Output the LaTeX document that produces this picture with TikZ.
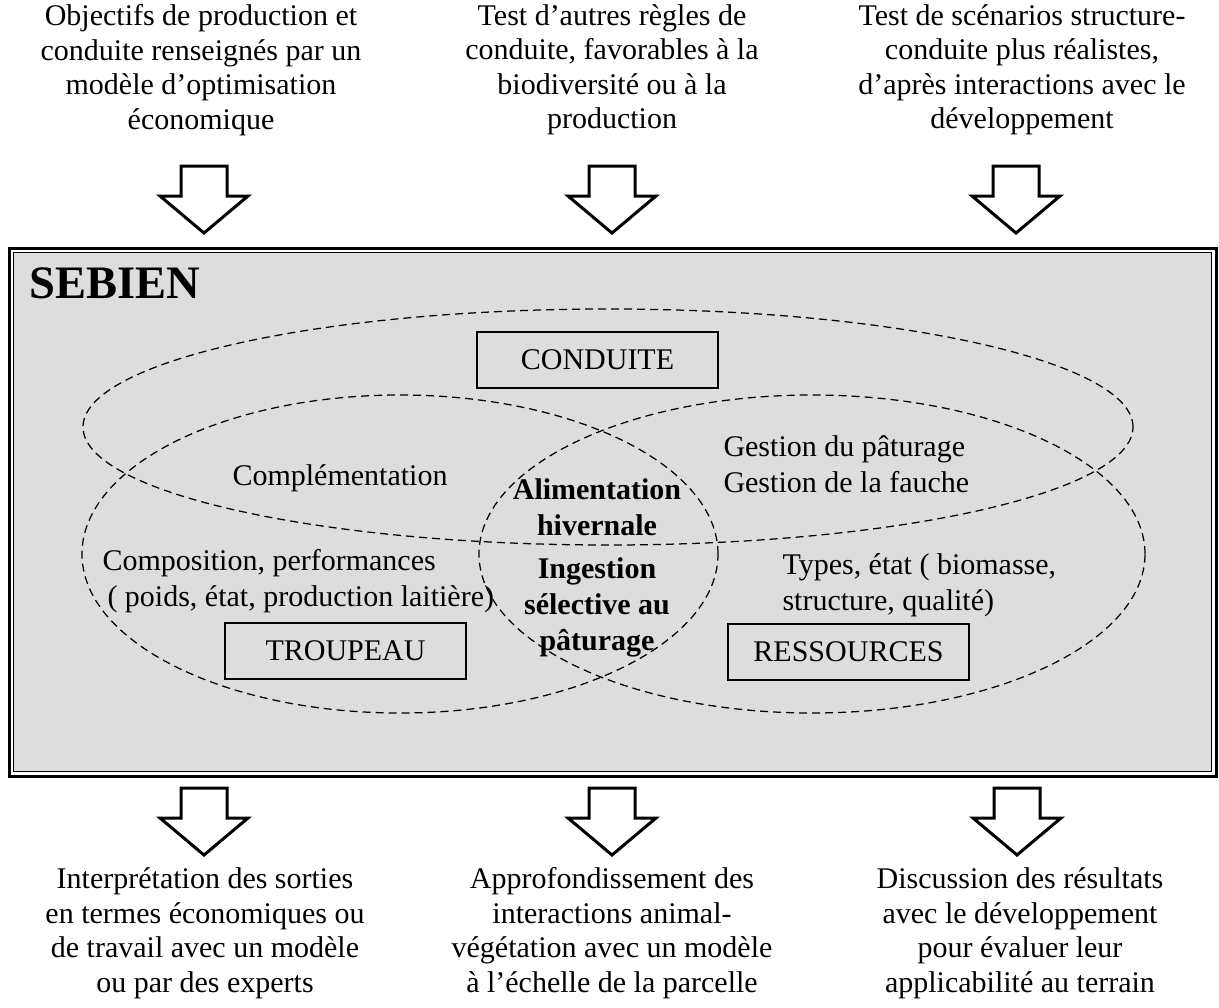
\documentclass[tikz,border=0pt]{standalone}
\usepackage{fontspec}
\setmainfont{Liberation Serif}
\definecolor{fondgris}{HTML}{DDDDDD}
\tikzset{
  every node/.style={font=\fontsize{12}{14.4}\selectfont,inner sep=0pt},
  consigne/.style={align=center,font=\fontsize{12}{13.8}\selectfont},
  bloc/.style={
    draw=black,
    line width=0.7pt,
    minimum width=96.4pt,
    minimum height=22.4pt,
    fill=fondgris
  },
  zone/.style={draw=black,line width=0.5pt,dash pattern=on 3.2pt off 2pt},
  fleche/.style={draw=black,line width=1.2pt,fill=white,line join=miter}
}
\newcommand{\flecheBas}[3]{%
  \coordinate (#1) at (#2,#3);
  \draw[fleche] (#2-23,#3) -- (#2+23,#3) -- (#2+23,#3+30) -- (#2+44,#3+30)
    -- (#2,#3+67) -- (#2-44,#3+30) -- (#2-23,#3+30) -- cycle;
}

\begin{document}
\begin{tikzpicture}[x=0.4pt,y=-0.4pt]
  \useasboundingbox (0,0) rectangle (1219,1007);

  % Cadre du modèle : double trait, fond gris.
  \draw[line width=1.2pt] (9,248) rectangle (1216,776);
  \draw[line width=0.7pt,fill=fondgris] (13.5,252.5) rectangle (1211.5,771.5);
  \node[anchor=base west,font=\bfseries\fontsize{18.6}{20}\selectfont]
    (titre) at (29,298) {SEBIEN};

  % Domaines du modèle (ellipses en tirets).
  \draw[zone] (608,427) ellipse [x radius=210pt,y radius=47.2pt];
  \draw[zone] (400,554) ellipse [x radius=127.2pt,y radius=63.6pt];
  \draw[zone] (812,554) ellipse [x radius=133.2pt,y radius=63.6pt];

  % Composantes.
  \node[bloc] (conduite) at (597.5,360) {CONDUITE};
  \node[bloc] (troupeau) at (345.5,651) {TROUPEAU};
  \node[bloc] (ressources) at (848.5,652) {RESSOURCES};

  % Contenus des zones et de leurs recouvrements.
  \node (complementation) at (340,478) {Complémentation};
  \node[align=left,anchor=west] (gestion) at (723,464.5)
    {Gestion du pâturage\\Gestion de la fauche};
  \node[align=left,anchor=west] (composition) at (102,581)
    {Composition, performances\\\hspace*{2pt}( poids, état, production laitière)};
  \node[align=left,anchor=west] (types) at (782,585)
    {Types, état ( biomasse,\\structure, qualité)};
  \node[align=center,font=\bfseries\fontsize{12}{14.4}\selectfont]
    (alimentation) at (597,507.5) {Alimentation\\hivernale};
  \node[align=center,font=\bfseries\fontsize{12}{14.4}\selectfont]
    (ingestion) at (597,607) {Ingestion\\sélective au\\pâturage};

  % Entrées du modèle.
  \node[consigne] (objectifs) at (201,70)
    {Objectifs de production et\\conduite renseignés par un\\modèle d’optimisation\\économique};
  \node[consigne] (regles) at (612,70)
    {Test d’autres règles de\\conduite, favorables à la\\biodiversité ou à la\\production};
  \node[consigne] (scenarios) at (1022,70)
    {Test de scénarios structure-\\conduite plus réalistes,\\d’après interactions avec le\\développement};
  \flecheBas{entree-objectifs}{204}{166}
  \flecheBas{entree-regles}{612}{166}
  \flecheBas{entree-scenarios}{1016}{166}

  % Sorties du modèle.
  \flecheBas{sortie-interpretation}{204}{788}
  \flecheBas{sortie-interactions}{612}{788}
  \flecheBas{sortie-discussion}{1017}{788}
  \node[consigne] (interpretation) at (205,933)
    {Interprétation des sorties\\en termes économiques ou\\de travail avec un modèle\\ou par des experts};
  \node[consigne] (interactions) at (612,933)
    {Approfondissement des\\interactions animal-\\végétation avec un modèle\\à l’échelle de la parcelle};
  \node[consigne] (discussion) at (1020,933)
    {Discussion des résultats\\avec le développement\\pour évaluer leur\\applicabilité au terrain};
\end{tikzpicture}
\end{document}
